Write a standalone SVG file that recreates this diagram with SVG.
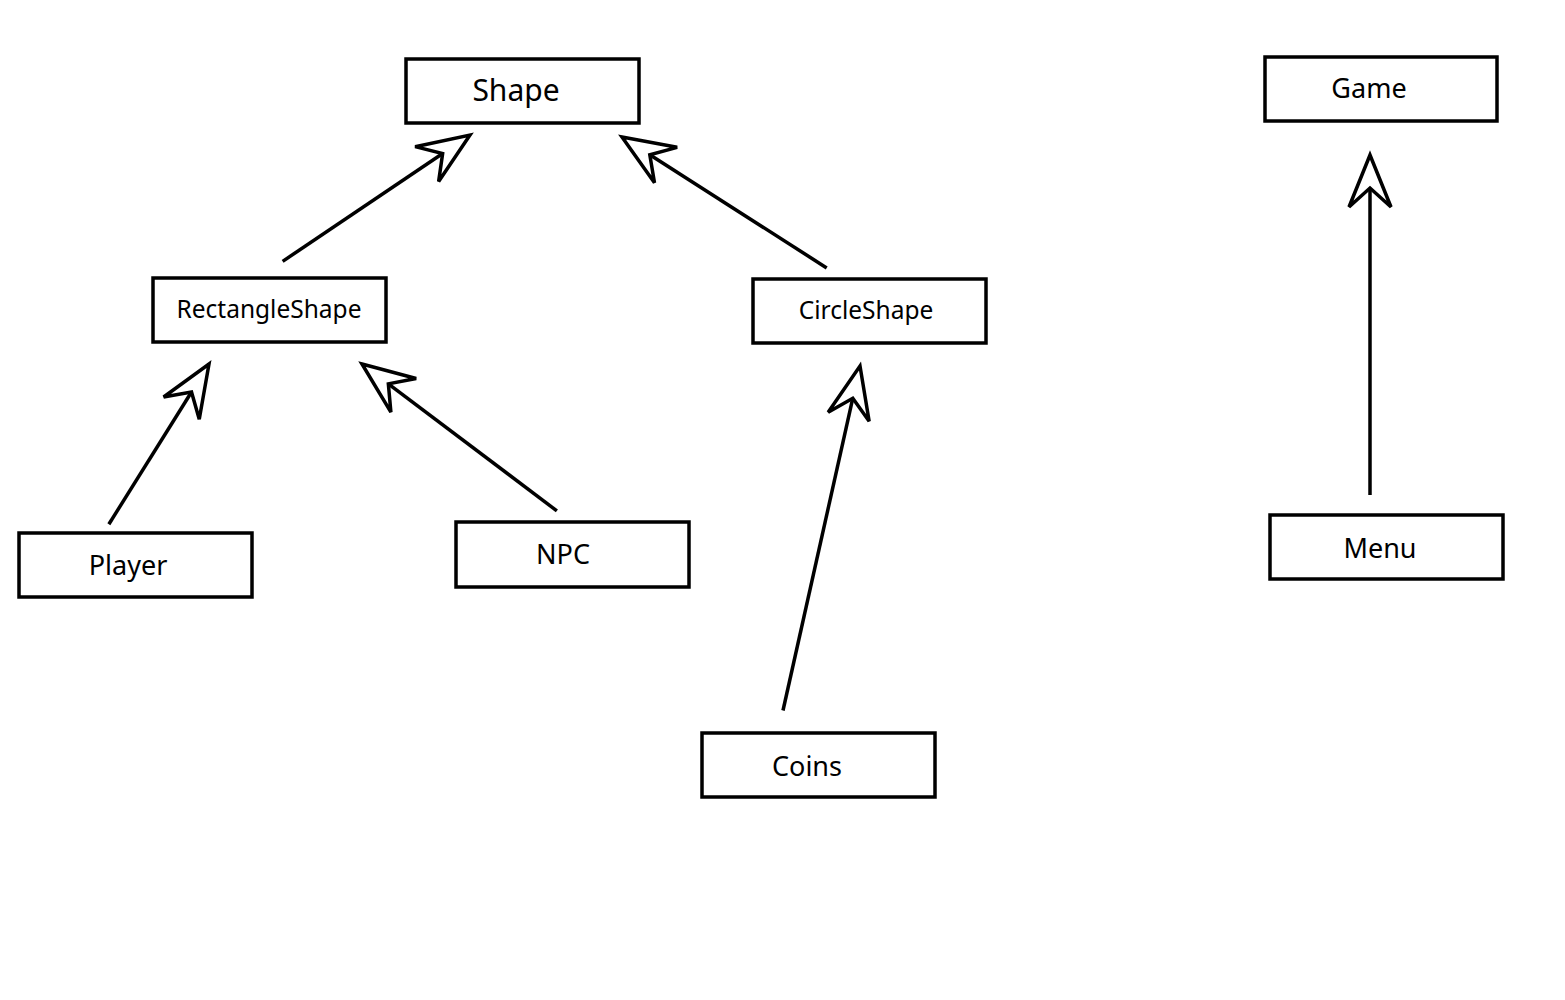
<svg xmlns="http://www.w3.org/2000/svg" width="1565" height="1000" viewBox="0 0 1565 1000">
<style>
.box{fill:#fff;stroke:#000;stroke-width:3.5}
.lbl{font-family:"Noto Sans","Open Sans",sans-serif;fill:#000;text-anchor:middle}
.ln{stroke:#000;stroke-width:3.5;fill:none}
.hd{fill:#fff;stroke:#000;stroke-width:3.5;stroke-linejoin:miter}
</style>
<defs>
<polygon id="head" class="hd" points="0,0 21,52 0,33 -21,52"/>
</defs>
<rect width="1565" height="1000" fill="#fff"/>
<g id="connectors">
<g transform="translate(470,135) rotate(56)"><line class="ln" x1="0" y1="33" x2="0" y2="226"/><use href="#head"/></g>
<g transform="translate(622,137) rotate(-57.4)"><line class="ln" x1="0" y1="33" x2="0" y2="243"/><use href="#head"/></g>
<g transform="translate(209,364) rotate(32)"><line class="ln" x1="0" y1="33" x2="0" y2="189"/><use href="#head"/></g>
<g transform="translate(362,364) rotate(-53)"><line class="ln" x1="0" y1="33" x2="0" y2="244"/><use href="#head"/></g>
<g transform="translate(860,366) rotate(12.6)"><line class="ln" x1="0" y1="33" x2="0" y2="353"/><use href="#head"/></g>
<g transform="translate(1370,155)"><line class="ln" x1="0" y1="33" x2="0" y2="340"/><use href="#head"/></g>
</g>
<g id="Shape"><rect class="box" x="406" y="59" width="233" height="64"/><text class="lbl" x="516" y="101" font-size="30">Shape</text></g>
<g id="Game"><rect class="box" x="1265" y="57" width="232" height="64"/><text class="lbl" x="1369" y="98" font-size="27">Game</text></g>
<g id="RectangleShape"><rect class="box" x="153" y="278" width="233" height="64"/><text class="lbl" x="269" y="318" font-size="24.5">RectangleShape</text></g>
<g id="CircleShape"><rect class="box" x="753" y="279" width="233" height="64"/><text class="lbl" x="866" y="319" font-size="24.5">CircleShape</text></g>
<g id="Player"><rect class="box" x="19" y="533" width="233" height="64"/><text class="lbl" x="128" y="575" font-size="27">Player</text></g>
<g id="NPC"><rect class="box" x="456" y="522" width="233" height="65"/><text class="lbl" x="563" y="564" font-size="27">NPC</text></g>
<g id="Coins"><rect class="box" x="702" y="733" width="233" height="64"/><text class="lbl" x="807" y="776" font-size="27">Coins</text></g>
<g id="Menu"><rect class="box" x="1270" y="515" width="233" height="64"/><text class="lbl" x="1380" y="558" font-size="27">Menu</text></g>
</svg>
